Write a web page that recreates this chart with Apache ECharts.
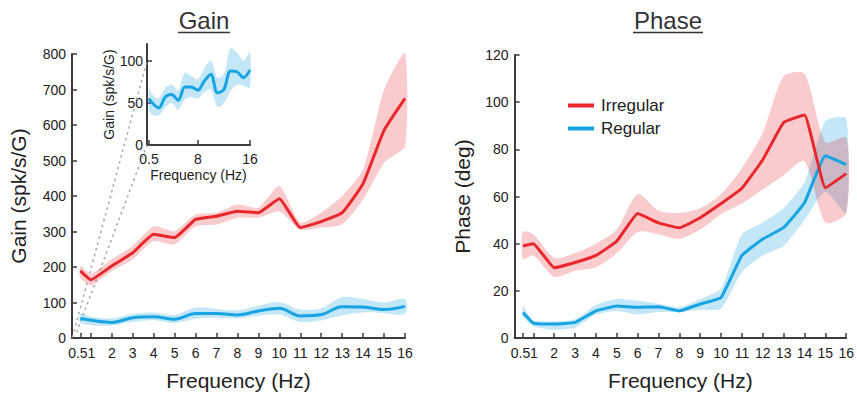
<!DOCTYPE html>
<html><head><meta charset="utf-8">
<script src="https://cdn.jsdelivr.net/npm/echarts@6/dist/echarts.min.js"></script>
<style>html,body{margin:0;padding:0;background:#fff}#c{width:857px;height:396px}</style>
</head><body><div id="c"></div>
<script>
// ---- data ----
const freq = [0.5, 1, 2, 3, 4, 5, 6, 7, 8, 9, 10, 11, 12, 13, 14, 15, 16];
const xTicks = [0.5, 1, 2, 3, 4, 5, 6, 7, 8, 9, 10, 11, 12, 13, 14, 15, 16];
const xLabelsA = [0.5, 2, 3, 4, 5, 6, 7, 8, 9, 10, 11, 12, 13, 14, 15, 16];
const xLabelsB = [1];
const insetXTicks = [0.5, 8, 16];
const insetYTicks = [0, 50, 100];

const gainIrrMean = [189, 164, 203, 240, 292, 283, 334, 343, 357, 353, 392, 311, 328, 353, 435, 585, 675];
const gainIrrLow  = [170, 149, 189, 222, 273, 264, 315, 320, 339, 339, 357, 305, 311, 320, 390, 494, 540];
const gainIrrHigh = [203, 180, 222, 259, 315, 301, 348, 353, 376, 367, 428, 325, 353, 400, 474, 700, 803];

const gainRegMean = [55, 50, 44, 57, 60, 53, 69, 69, 65, 76, 84, 62, 66, 88, 87, 80, 89];
const gainRegLow  = [42, 36, 35, 45, 50, 42, 54, 57, 55, 63, 66, 45, 50, 64, 72, 70, 68];
const gainRegHigh = [68, 60, 55, 68, 72, 65, 86, 82, 78, 91, 101, 80, 84, 115, 110, 100, 110];

const phaseIrrMean = [39, 40, 29.8, 32, 35, 41, 52.8, 48.8, 46.7, 51, 57, 63.5, 75.6, 91.4, 94.6, 63.7, 69.7];
const phaseIrrLow  = [33.5, 35, 26, 28.5, 30, 36, 45, 44, 42, 46, 52.5, 57, 63, 69, 75, 49, 53];
const phaseIrrHigh = [45, 44, 34, 36, 40, 46, 61, 54, 53, 55, 61, 72, 87, 111, 112, 83, 85];

const phaseRegMean = [10.8, 6.3, 5.9, 6.6, 11.5, 13.6, 13, 13.2, 11.5, 14.4, 17.2, 35, 42, 46.8, 57.3, 77.3, 73.5];
const phaseRegLow  = [9, 5, 3.5, 4.5, 10, 11.5, 10, 11, 11, 12, 12.5, 28, 35, 39, 50, 62, 53];
const phaseRegHigh = [13.5, 7.5, 7, 8, 14, 16.5, 15.8, 14.5, 13, 16.5, 21, 44, 49, 55, 66, 92, 93];

// ---- styling ----
const RED = '#e8262b', BLUE = '#17a4e2';
const RED_BAND = 'rgba(232,38,43,0.24)', BLUE_BAND = 'rgba(23,164,226,0.26)';
const AXIS = '#3c3c3c', TXT = '#222';
const FONT = 'Liberation Sans, Arial, sans-serif';

const chart = echarts.init(document.getElementById('c'), null, {renderer: 'svg'});

const series = [];
function band(id, gi, low, high, color, smooth) {
  series.push({
    type: 'custom', name: id, xAxisIndex: gi, yAxisIndex: gi, silent: true,
    data: freq.map((f, i) => [f, low[i], high[i]]),
    encode: {x: 0, y: [1, 2]},
    renderItem: function (params, api) {
      if (params.dataIndex !== 0) return null;
      const pts = [];
      for (let i = 0; i < freq.length; i++) pts.push(api.coord([freq[i], high[i]]));
      for (let i = freq.length - 1; i >= 0; i--) pts.push(api.coord([freq[i], low[i]]));
      return {type: 'polygon', shape: {points: pts, smooth: smooth}, style: {fill: color}};
    }
  });
}
function line(name, gi, vals, color, smooth) {
  series.push({
    type: 'line', name: name, xAxisIndex: gi, yAxisIndex: gi,
    data: freq.map((f, i) => [f, vals[i]]), symbol: 'none', smooth: smooth,
    lineStyle: {color: color, width: 3}, itemStyle: {color: color}, silent: true
  });
}
// Gain (grid 0)
band('g-reg', 0, gainRegLow, gainRegHigh, BLUE_BAND, 0.3);
line('Regular', 0, gainRegMean, BLUE, 0.35);
band('g-irr', 0, gainIrrLow, gainIrrHigh, RED_BAND, 0.2);
line('Irregular', 0, gainIrrMean, RED, 0.12);
// Phase (grid 1)
band('p-reg', 1, phaseRegLow, phaseRegHigh, BLUE_BAND, 0.2);
line('Regular', 1, phaseRegMean, BLUE, 0.1);
band('p-irr', 1, phaseIrrLow, phaseIrrHigh, RED_BAND, 0.25);
line('Irregular', 1, phaseIrrMean, RED, 0.1);
// Inset (grid 2)
band('i-reg', 2, gainRegLow, gainRegHigh, BLUE_BAND, 0.25);
line('Regular', 2, gainRegMean, BLUE, 0.3);

const richLab = {
  l: {fontSize: 14, color: TXT, fontFamily: FONT, padding: [0, 5, 0, 0]},
  r: {fontSize: 14, color: TXT, fontFamily: FONT, padding: [0, 0, 0, 1]}
};
function xAxis(gi, min, ticks, labels, name, fs, nfs, gap, margin) {
  return {
    type: 'value', gridIndex: gi, min: min, max: 16, position: 'bottom',
    axisLine: {show: true, onZero: false, lineStyle: {color: AXIS, width: 2}},
    axisTick: {show: true, inside: true, length: 5, customValues: ticks, lineStyle: {color: AXIS, width: 1.5}},
    axisLabel: {customValues: labels, fontSize: fs, color: TXT, fontFamily: FONT, margin: margin,
                showMinLabel: true, showMaxLabel: true, hideOverlap: false,
                formatter: gi < 2 ? (v => v === 0.5 ? '{l|0.5}' : String(v)) : null, rich: richLab},
    splitLine: {show: false},
    name: name, nameLocation: 'middle', nameGap: gap,
    nameTextStyle: {fontSize: nfs, color: TXT, fontFamily: FONT}
  };
}
function xAxisExtra(gi) {
  return {
    type: 'value', gridIndex: gi, min: 0.1, max: 16, position: 'bottom', offset: 0,
    axisLine: {show: false, onZero: false}, axisTick: {show: false}, splitLine: {show: false},
    axisLabel: {customValues: xLabelsB, showMinLabel: true, showMaxLabel: true, margin: 8,
                fontSize: 14, color: TXT, fontFamily: FONT, formatter: v => '{r|' + v + '}', rich: richLab}
  };
}
function yAxis(gi, max, interval, custom, name, fs, nfs, gap, margin) {
  const ax = {
    type: 'value', gridIndex: gi, min: 0, max: max,
    axisLine: {show: true, lineStyle: {color: AXIS, width: 2}},
    axisTick: {show: true, inside: true, length: 5, lineStyle: {color: AXIS, width: 1.5}},
    axisLabel: {fontSize: fs, color: TXT, fontFamily: FONT, margin: margin, showMinLabel: true},
    splitLine: {show: false},
    name: name, nameLocation: 'middle', nameGap: gap, nameRotate: 90,
    nameTextStyle: {fontSize: nfs, color: TXT, fontFamily: FONT}
  };
  if (custom) { ax.axisTick.customValues = custom; ax.axisLabel.customValues = custom; }
  else ax.interval = interval;
  return ax;
}

chart.setOption({
  animation: false,
  backgroundColor: '#fff',
  grid: [
    {left: 72, top: 54, width: 333, height: 285},
    {left: 514.6, top: 55, width: 333.4, height: 284},
    {left: 147, top: 44, width: 103, height: 101}
  ],
  xAxis: [
    xAxis(0, 0.1, xTicks, xLabelsA, 'Frequency (Hz)', 14, 21, 32, 8),
    xAxis(1, 0.1, xTicks, xLabelsA, 'Frequency (Hz)', 14, 21, 32, 8),
    xAxis(2, 0.2, insetXTicks, insetXTicks, 'Frequency (Hz)', 14, 14, 23, 7),
    xAxisExtra(0),
    xAxisExtra(1)
  ],
  yAxis: [
    yAxis(0, 800, 100, null, 'Gain (spk/s/G)', 14, 21, 43, 6),
    yAxis(1, 120, 20, null, 'Phase (deg)', 14, 21, 42, 6),
    yAxis(2, 120, null, insetYTicks, 'Gain (spk/s/G)', 14, 14, 30, 4)
  ],
  legend: {
    data: ['Irregular', 'Regular'], orient: 'vertical', left: 563, top: 92,
    icon: 'rect', itemWidth: 26, itemHeight: 4, itemGap: 6,
    textStyle: {fontSize: 17, color: TXT, fontFamily: FONT, padding: [0, 0, 0, 2]},
    selectedMode: false
  },
  series: series
});

// zoom guide lines and titles
const a1 = chart.convertToPixel({gridIndex: 0}, [0.12, 2]);
const b1 = chart.convertToPixel({gridIndex: 2}, [0.2, 100]);
const a2 = chart.convertToPixel({gridIndex: 0}, [0.32, 16]);
const b2 = chart.convertToPixel({gridIndex: 2}, [0.2, 0]);
const dash = {stroke: '#a8a8a8', lineWidth: 1.5, lineDash: [2.5, 3.5]};
chart.setOption({
  graphic: [
    {type: 'line', shape: {x1: a1[0], y1: a1[1], x2: b1[0], y2: b1[1]}, style: dash, z: 1, silent: true},
    {type: 'line', shape: {x1: a2[0], y1: a2[1], x2: b2[0], y2: b2[1]}, style: dash, z: 1, silent: true},
    {type: 'text', x: 204, y: 20, style: {text: 'Gain', font: '24px ' + FONT, fill: '#333', textAlign: 'center', textVerticalAlign: 'middle'}},
    {type: 'line', shape: {x1: 178, y1: 32.5, x2: 230, y2: 32.5}, style: {stroke: '#333', lineWidth: 1.5}},
    {type: 'text', x: 668, y: 20, style: {text: 'Phase', font: '24px ' + FONT, fill: '#333', textAlign: 'center', textVerticalAlign: 'middle'}},
    {type: 'line', shape: {x1: 633, y1: 32.5, x2: 703, y2: 32.5}, style: {stroke: '#333', lineWidth: 1.5}}
  ]
});
</script></body></html>
